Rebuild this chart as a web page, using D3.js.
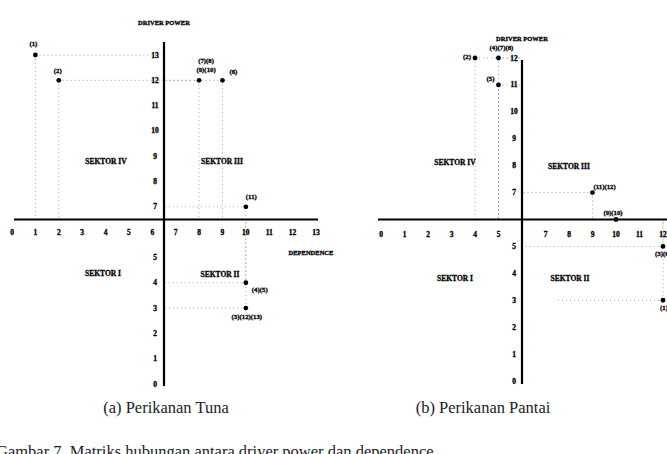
<!DOCTYPE html>
<html>
<head>
<meta charset="utf-8">
<script src="https://cdn.jsdelivr.net/npm/d3@7"></script>
<style>
  html, body { margin: 0; padding: 0; background: #fff; }
  svg { display: block; }
  .tick-lbl { font: bold 7.5px "Liberation Serif", serif; fill: #000; stroke: #000; stroke-width: 0.3; }
  .sek { font: bold 7.5px "Liberation Serif", serif; fill: #000; stroke: #000; stroke-width: 0.3; }
  .ax-title { font: bold 6.5px "Liberation Serif", serif; fill: #000; stroke: #000; stroke-width: 0.3; }
  .pt-lbl { font: bold 6.8px "Liberation Serif", serif; fill: #000; stroke: #000; stroke-width: 0.3; }
  .caption { font: 16.5px "Liberation Serif", serif; fill: #222; }
  .guide { stroke: #a0a0a0; stroke-width: 1; stroke-dasharray: 1,3; fill: none; }
  .axis-line { stroke: #000; stroke-width: 2.2; }
</style>
</head>
<body>
<svg id="chart" width="667" height="454"></svg>
<script>
// panel (a) Perikanan Tuna
const ticksA = d3.range(0, 14);
const ptsAx = [1, 2, 8, 9, 10, 10, 10];
const ptsAy = [13, 12, 12, 12, 7, 4, 3];
const ptsAlbl = ['(1)', '(2)', '(7)(8)|(9)(10)', '(6)', '(11)', '(4)(5)', '(3)(12)(13)'];
const sectorsA = ['SEKTOR IV', 'SEKTOR III', 'SEKTOR I', 'SEKTOR II'];

// panel (b) Perikanan Pantai
const ticksB = d3.range(0, 13);
const ptsBx = [4, 5, 5, 9, 10, 12, 12];
const ptsBy = [12, 12, 11, 7, 6, 5, 3];
const ptsBlbl = ['(2)', '(4)(7)(8)', '(5)', '(11)(12)', '(9)(10)', '(3)(6)', '(1)(13)'];
const sectorsB = ['SEKTOR IV', 'SEKTOR III', 'SEKTOR I', 'SEKTOR II'];

const captions = ['(a) Perikanan Tuna', '(b) Perikanan Pantai'];
const footText = 'Gambar 7. Matriks hubungan antara driver power dan dependence';

(function () {
  const svg = d3.select('#chart');

  // one quadrant plot; cfg holds the pixel frame, data comes from the arrays above
  function drawPanel(cfg) {
    const x = d3.scaleLinear().domain(cfg.xDom).range(cfg.xRange);
    const y = d3.scaleLinear().domain(cfg.yDom).range(cfg.yRange);
    const g = svg.append('g');
    const cx = x(cfg.cross), cy = y(cfg.cross);
    const pts = cfg.px.map((v, i) => ({ x: v, y: cfg.py[i], lbl: cfg.lbl[i], pos: cfg.pos[i] }));

    // dotted guides: point -> vertical axis and point -> horizontal axis
    const gg = g.append('g');
    pts.forEach(p => {
      gg.append('line').attr('class', 'guide')
        .attr('x1', x(p.x)).attr('x2', cfg.hFrom ? x(cfg.hFrom(p)) : cx)
        .attr('y1', y(p.y)).attr('y2', y(p.y));
      gg.append('line').attr('class', 'guide')
        .attr('x1', x(p.x)).attr('x2', x(p.x))
        .attr('y1', y(p.y)).attr('y2', cy);
    });

    // axes
    g.append('line').attr('class', 'axis-line')
      .attr('x1', cfg.hAxis[0]).attr('x2', cfg.hAxis[1]).attr('y1', cy).attr('y2', cy);
    g.append('line').attr('class', 'axis-line')
      .attr('x1', cx).attr('x2', cx).attr('y1', cfg.vAxis[0]).attr('y2', cfg.vAxis[1]);

    // tick labels
    g.append('g').selectAll('text').data(cfg.ticks.filter(t => t !== cfg.skipX)).join('text')
      .attr('class', 'tick-lbl').attr('text-anchor', 'middle')
      .attr('x', d => x(d)).attr('y', cy + cfg.xLblDy).text(d => d);
    g.append('g').selectAll('text').data(cfg.ticks.filter(t => cfg.yKeep(t))).join('text')
      .attr('class', 'tick-lbl').attr('text-anchor', 'middle')
      .attr('x', cx + cfg.yLblDx).attr('y', d => y(d) + 2.5).text(d => d);

    // axis titles
    g.append('text').attr('class', 'ax-title').attr('text-anchor', 'middle')
      .attr('x', cx).attr('y', cfg.dpY).attr('font-size', cfg.titleSize).text('DRIVER POWER');
    if (cfg.depPos)
      g.append('text').attr('class', 'ax-title').attr('text-anchor', 'middle')
        .attr('x', cfg.depPos[0]).attr('y', cfg.depPos[1]).text('DEPENDENCE');

    // sector labels
    g.append('g').selectAll('text').data(cfg.sectors).join('text')
      .attr('class', 'sek').attr('text-anchor', 'middle')
      .attr('x', (d, i) => cfg.secPos[i][0]).attr('y', (d, i) => cfg.secPos[i][1]).text(d => d);

    // points
    g.append('g').selectAll('circle').data(pts).join('circle')
      .attr('cx', d => x(d.x)).attr('cy', d => y(d.y)).attr('r', 2.4).attr('fill', '#000');

    // point labels (| splits lines)
    pts.forEach(p => {
      const [dx, dy, anchor] = p.pos;
      const t = g.append('text').attr('class', 'pt-lbl').attr('text-anchor', anchor)
        .attr('x', x(p.x) + dx).attr('y', y(p.y) + dy);
      p.lbl.split('|').forEach((s, k) => {
        t.append('tspan').attr('x', x(p.x) + dx).attr('dy', k ? 9 : 0).text(s);
      });
    });

    svg.append('text').attr('class', 'caption').attr('text-anchor', 'middle')
      .attr('x', cfg.capX).attr('y', 413).text(cfg.caption);
  }

  drawPanel({
    xDom: [0, 13], xRange: [12, 316], yDom: [0, 13], yRange: [384, 55], cross: 6.5,
    ticks: ticksA, skipX: -1, yKeep: t => t !== 6, xLblDy: 15, yLblDx: -9,
    hAxis: [14, 318], vAxis: [42, 386],
    px: ptsAx, py: ptsAy, lbl: ptsAlbl,
    pos: [[-2, -9, 'middle'], [-1, -7, 'middle'], [7, -17, 'middle'], [7, -6, 'start'],
          [0, -8, 'start'], [6, 9, 'start'], [1, 11, 'middle']],
    sectors: sectorsA, secPos: [[106, 164], [222, 164], [103, 276], [220, 277]],
    dpY: 25, titleSize: 6.5, depPos: [311, 255], capX: 166, caption: captions[0]
  });

  drawPanel({
    xDom: [0, 12], xRange: [381, 663], yDom: [0, 12], yRange: [381, 58], cross: 6,
    ticks: ticksB, skipX: 6, yKeep: t => t !== 6, xLblDy: 17, yLblDx: -8,
    hAxis: [378, 670], vAxis: [60, 384],
    px: ptsBx, py: ptsBy, lbl: ptsBlbl,
    pos: [[-8, 1, 'middle'], [3, -8, 'middle'], [-8, -4, 'middle'], [1, -4, 'start'],
          [-3, -5, 'middle'], [-8, 10, 'start'], [-3, 10, 'start']],
    hFrom: p => (p.y === 3 ? 7.5 : 6),
    sectors: sectorsB, secPos: [[455, 165], [569, 169], [455, 281], [570, 281]],
    dpY: 41, titleSize: 5.5, depPos: null, capX: 483, caption: captions[1]
  });

  svg.append('text').attr('class', 'caption').attr('font-size', 18)
    .attr('x', -4).attr('y', 457).text(footText);
})();
</script>
</body>
</html>
